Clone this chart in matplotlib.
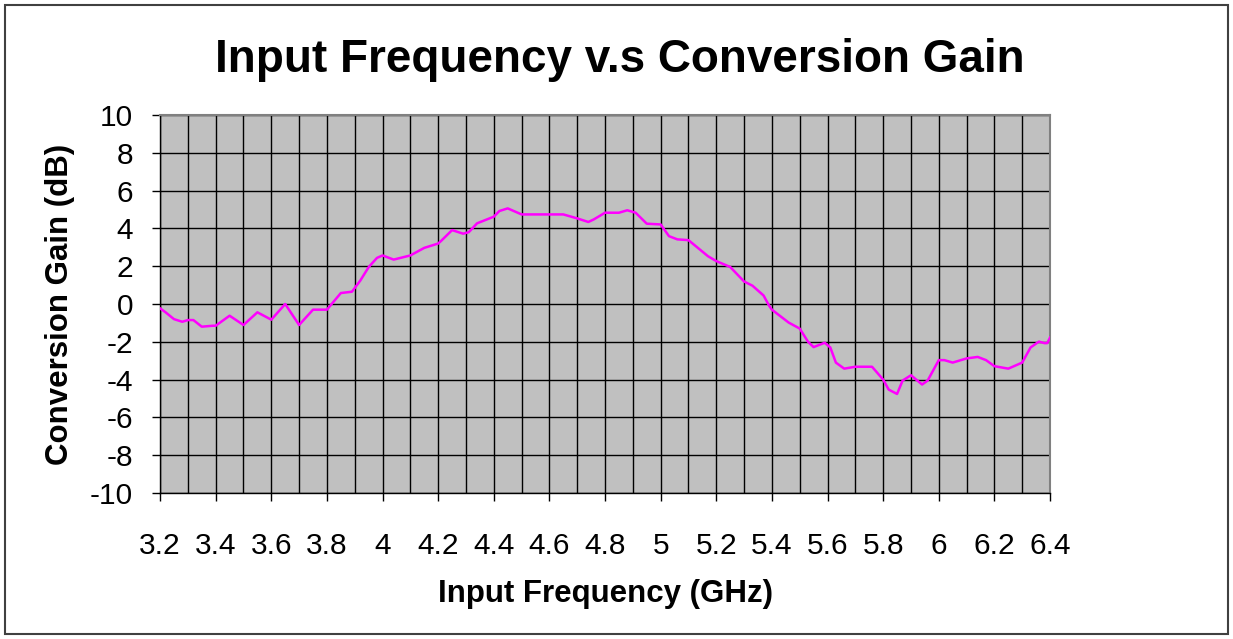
import numpy as np
import matplotlib
matplotlib.use("Agg")
from matplotlib import pyplot as plt
from matplotlib.patches import Rectangle
from matplotlib.ticker import MultipleLocator, FuncFormatter

plt.rcParams['font.family'] = ['Liberation Sans', 'DejaVu Sans']
plt.rcParams['axes.unicode_minus'] = False

# values
freq_ghz = [3.20, 3.22, 3.25, 3.28, 3.30, 3.32, 3.35, 3.39, 3.40, 3.45,
            3.50, 3.55, 3.60, 3.65, 3.70, 3.75, 3.80, 3.85, 3.89, 3.92,
            3.95, 3.98, 4.00, 4.04, 4.10, 4.15, 4.20, 4.21, 4.25, 4.29,
            4.31, 4.34, 4.40, 4.42, 4.45, 4.50, 4.60, 4.65, 4.70, 4.74,
            4.76, 4.80, 4.85, 4.88, 4.91, 4.95, 5.00, 5.03, 5.06, 5.10,
            5.17, 5.20, 5.25, 5.30, 5.33, 5.37, 5.39, 5.40, 5.46, 5.50,
            5.53, 5.55, 5.59, 5.61, 5.63, 5.66, 5.70, 5.76, 5.80, 5.82,
            5.85, 5.87, 5.90, 5.94, 5.96, 6.00, 6.02, 6.05, 6.10, 6.14,
            6.17, 6.20, 6.25, 6.30, 6.33, 6.36, 6.38, 6.39, 6.40]
gain_db = [-0.23, -0.44, -0.80, -0.94, -0.85, -0.85, -1.20, -1.15, -1.15, -0.62,
           -1.11, -0.44, -0.83, 0.00, -1.11, -0.30, -0.30, 0.58, 0.65, 1.24,
           1.95, 2.44, 2.57, 2.35, 2.57, 2.97, 3.20, 3.33, 3.91, 3.72,
           3.80, 4.27, 4.62, 4.92, 5.06, 4.74, 4.74, 4.74, 4.53, 4.34,
           4.48, 4.83, 4.83, 4.96, 4.83, 4.25, 4.21, 3.59, 3.42, 3.38,
           2.53, 2.27, 1.96, 1.19, 0.97, 0.45, -0.09, -0.30, -0.98, -1.30,
           -2.00, -2.28, -2.05, -2.30, -3.10, -3.42, -3.32, -3.32, -4.00, -4.53,
           -4.76, -4.05, -3.77, -4.26, -4.05, -2.97, -2.97, -3.10, -2.88, -2.80,
           -2.97, -3.29, -3.42, -3.10, -2.30, -1.99, -2.07, -2.07, -1.78]

fig = plt.figure(figsize=(12.33, 6.39), dpi=100)
ax = fig.add_axes([0.1298, 0.2285, 0.7218, 0.5915])

ax.plot(freq_ghz, gain_db, color="#FF00FF", linewidth=1.8,
        solid_joinstyle="round", zorder=3)

ax.set_xlim(3.2, 6.4)
ax.set_ylim(-10, 10)
ax.set_facecolor("#C0C0C0")

ax.xaxis.set_major_locator(MultipleLocator(0.2))
ax.xaxis.set_minor_locator(MultipleLocator(0.1))
ax.yaxis.set_major_locator(MultipleLocator(2))
ax.xaxis.set_major_formatter(FuncFormatter(lambda v, p: f"{round(v, 1):g}"))

ax.grid(True, which="both", axis="x", color="black", linewidth=1)
ax.grid(True, which="major", axis="y", color="black", linewidth=1)
ax.set_axisbelow(True)

ax.tick_params(axis="both", which="major", direction="out", length=6,
               width=1, labelsize=21.5, colors="black")
ax.tick_params(axis="x", which="major", pad=22)
ax.tick_params(axis="y", which="major", pad=13.5)
ax.tick_params(axis="x", which="minor", length=0)

for side in ["top", "right"]:
    ax.spines[side].set_color("#808080")
    ax.spines[side].set_linewidth(1.5)
for side in ["left", "bottom"]:
    ax.spines[side].set_color("black")
    ax.spines[side].set_linewidth(1)

ax.set_xlabel("Input Frequency (GHz)", fontsize=22.5, fontweight="bold", labelpad=14)
ax.set_ylabel("Conversion Gain (dB)", fontsize=22.5, fontweight="bold", labelpad=11)

fig.text(0.503, 1 - 72 / 639, "Input Frequency v.s Conversion Gain", ha="center",
         va="baseline", fontsize=33, fontweight="bold")

# outer chart border
fig.patches.append(Rectangle((5 / 1233, 5 / 639), 1223 / 1233, 629 / 639,
                             transform=fig.transFigure, fill=False,
                             edgecolor="#404040", linewidth=1.5))

fig.savefig("out.png", dpi=100, facecolor="white")
